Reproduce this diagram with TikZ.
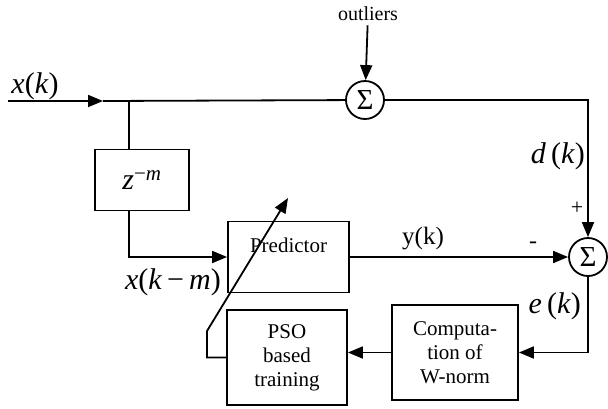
\documentclass[tikz,border=0pt]{standalone}
\usepackage{fontspec}
\setmainfont{Liberation Serif}
\usetikzlibrary{arrows.meta}
\tikzset{
  blk/.style={draw,fill=white,align=center,inner sep=0pt,font=\fontsize{21}{24}\selectfont},
  sumnode/.style={draw,circle,minimum size=38pt,inner sep=0pt,font=\fontsize{29}{30}\selectfont},
  sig/.style={font=\fontsize{30}{32}\selectfont},
  arr/.style={-{Triangle[length=15pt,width=12pt]}},
}
\begin{document}
\begin{tikzpicture}[x=1pt,y=-1pt,line width=1.8pt]
  \useasboundingbox (0,0) rectangle (608,408);
  \coordinate (in) at (8,101);
  \coordinate (mid) at (103,101);
  \coordinate (jn) at (129,101);
  \coordinate (bend) at (207,331);
  \coordinate (tip) at (288,198);
  \node[sumnode] (s1) at (365,100) {Σ};
  \node[sumnode] (s2) at (588,257) {Σ};
  \node[font=\fontsize{20}{22}\selectfont] (outl) at (368,14) {outliers};
  \node[blk,sig,minimum width=94pt,minimum height=61pt] (zbox) at (142,180) {\textit{z}\textsuperscript{−\textit{m}}};
  \node[blk,minimum width=121pt,minimum height=71pt] (pred) at (288.5,257) {Predictor\\~};
  \node[blk,minimum width=120pt,minimum height=95pt] (pso) at (287,357.5) {PSO\\based\\training};
  \node[blk,minimum width=126pt,minimum height=95pt] (comp) at (455,352.5) {Computa-\\tion of\\W-norm};
  \node[sig] (xk) at (35,86) {\textit{x}(\textit{k})};
  \node[sig,anchor=east] (xkm) at (225,282) {\textit{x}(\textit{k}\,−\,\textit{m})};
  \node[font=\fontsize{25}{27}\selectfont] (yk) at (423,239) {y(k)};
  \node[font=\fontsize{24}{26}\selectfont] (minus) at (533,245) {-};
  \node[font=\fontsize{22}{24}\selectfont] (plus) at (577,208) {+};
  \node[sig,anchor=east] (dk) at (589,156) {\textit{d}\,(\textit{k})};
  \node[sig,anchor=east] (ek) at (585,306) {\textit{e}\,(\textit{k})};
  \draw[arr] (in) -- (mid);
  \draw (mid) -- (s1);
  \draw[arr] (outl) -- (s1);
  \draw[arr] (s1) -| (s2);
  \draw (jn) -- (jn |- zbox.north);
  \draw[arr] (jn |- zbox.south) |- (pred.west);
  \draw[arr] (pred) -- (s2);
  \draw[arr] (s2) |- (comp);
  \draw[arr] (comp.west) -- (comp.west -| pso.east);
  \draw[arr] (pso.west) -| (bend) -- (tip);
\end{tikzpicture}
\end{document}
